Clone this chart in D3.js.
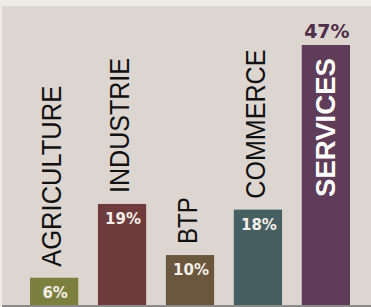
<!DOCTYPE html>
<html><head><meta charset="utf-8">
<script src="https://cdn.jsdelivr.net/npm/d3@7"></script>
<style>html,body{margin:0;padding:0;background:#efebe6;}svg{display:block;}</style>
</head><body>
<script>
const categories = ["AGRICULTURE", "INDUSTRIE", "BTP", "COMMERCE", "SERVICES"];
const values = [6, 19, 10, 18, 47];
const valueLabels = ["6%", "19%", "10%", "18%", "47%"];
const colors = ["#7c803f", "#6f3c3d", "#6b573e", "#465f62", "#5f3d59"];
const labelLengths = [181, 135, 47, 149, 139];

const W = 371, H = 307;
const svg = d3.select("body").append("svg").attr("width", W).attr("height", H);
svg.append("rect").attr("x", 2).attr("y", 6).attr("width", W - 2).attr("height", H - 6).attr("fill", "#ddd5cf");

const baseY = 305;
const x = d3.scaleBand().domain(categories).range([30, 350]).paddingInner(0.29).paddingOuter(0);
const y = d3.scaleLinear().domain([1.2, 47]).range([baseY, 45]);

svg.selectAll("rect.bar").data(categories).join("rect")
  .attr("class", "bar")
  .attr("x", d => x(d)).attr("width", x.bandwidth())
  .attr("y", (d, i) => y(values[i])).attr("height", (d, i) => baseY - y(values[i]))
  .attr("fill", (d, i) => colors[i]);

svg.append("rect").attr("x", 2).attr("y", baseY).attr("width", W - 2).attr("height", 2).attr("fill", "#8b8a88");

// category labels
categories.forEach((c, i) => {
  const last = i === categories.length - 1;
  const cx = x(c) + x.bandwidth() / 2 + (last ? 9 : 7);
  const by = last ? 197 : y(values[i]) - 11;
  svg.append("text")
    .attr("transform", `translate(${cx},${by}) rotate(-90)`)
    .attr("font-family", "Liberation Sans, Arial, sans-serif")
    .attr("font-size", 27)
    .attr("font-weight", last ? "bold" : "normal")
    .attr("fill", last ? "#ffffff" : "#111111")
    .attr("textLength", labelLengths[i])
    .attr("lengthAdjust", "spacingAndGlyphs")
    .text(c);
});

// value labels
categories.forEach((c, i) => {
  const last = i === categories.length - 1;
  const cx = x(c) + x.bandwidth() / 2 + 1;
  svg.append("text")
    .attr("x", cx)
    .attr("y", last ? y(values[i]) - 7 : y(values[i]) + 20)
    .attr("text-anchor", "middle")
    .attr("font-family", "DejaVu Sans, sans-serif")
    .attr("font-weight", "bold")
    .attr("font-size", last ? 19 : 15)
    .attr("fill", last ? "#4f2e4a" : "#f4efe8")
    .text(valueLabels[i]);
});
</script>
</body></html>
